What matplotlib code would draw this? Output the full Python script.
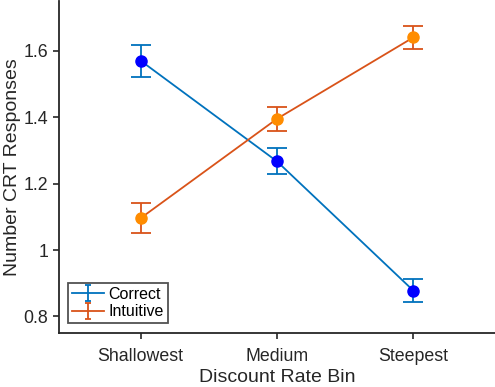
import numpy as np
import matplotlib
matplotlib.use("Agg")
import matplotlib.pyplot as plt
from matplotlib.legend_handler import HandlerErrorbar
from matplotlib.lines import Line2D

bins = ["Shallowest", "Medium", "Steepest"]
correct = [1.570, 1.267, 0.878]
correct_err = [0.048, 0.039, 0.035]
intuitive = [1.096, 1.395, 1.640]
intuitive_err = [0.046, 0.036, 0.036]

plt.rcParams['font.family'] = ['Liberation Sans', 'DejaVu Sans']
txt = '#262626'

fig = plt.figure(figsize=(4.95, 3.87), dpi=100)
ax = fig.add_axes([0.119, 0.1395, 0.881, 0.858])

x = np.arange(1, len(bins) + 1)
ax.errorbar(x, correct, yerr=correct_err, color='#0072BD', lw=1.3,
            capsize=7, capthick=1.3, label='Correct')
ax.errorbar(x, intuitive, yerr=intuitive_err, color='#D95319', lw=1.3,
            capsize=7, capthick=1.3, label='Intuitive')
ax.plot(x, correct, 'o', color='#0000FF', ms=8, zorder=3)
ax.plot(x, intuitive, 'o', color='#FF8C00', ms=8, zorder=3)

ax.set_xlim(0.4, 3.6)
ax.set_ylim(0.75, 1.75)
ax.set_xticks(x)
ax.set_xticklabels(bins)
ax.set_yticks([0.8, 1.0, 1.2, 1.4, 1.6])
ax.set_yticklabels(['0.8', '1', '1.2', '1.4', '1.6'])

for s in ['top', 'right']:
    ax.spines[s].set_visible(False)
for s in ['left', 'bottom']:
    ax.spines[s].set_linewidth(1.3)
    ax.spines[s].set_color(txt)
ax.tick_params(direction='out', length=4, width=1.2, colors=txt,
               labelsize=12.8, labelcolor=txt)
ax.tick_params(axis='x', pad=7)
ax.set_xlabel('Discount Rate Bin', fontsize=14, color=txt, labelpad=3)
ax.set_ylabel('Number CRT Responses', fontsize=14, color=txt, labelpad=2)


def small_caps(h, orig):
    h.update_from(orig)
    if isinstance(h, Line2D):
        h.set_markersize(5)


leg = ax.legend(loc='lower left', fontsize=11.5, frameon=True, fancybox=False,
                handlelength=2.0, handletextpad=0.25, borderpad=0.25,
                labelspacing=0.15, borderaxespad=0.6,
                handler_map={type(ax.containers[0]): HandlerErrorbar(update_func=small_caps)})
leg.get_frame().set_edgecolor(txt)
leg.get_frame().set_linewidth(1.3)

fig.savefig('out.png', dpi=100)
